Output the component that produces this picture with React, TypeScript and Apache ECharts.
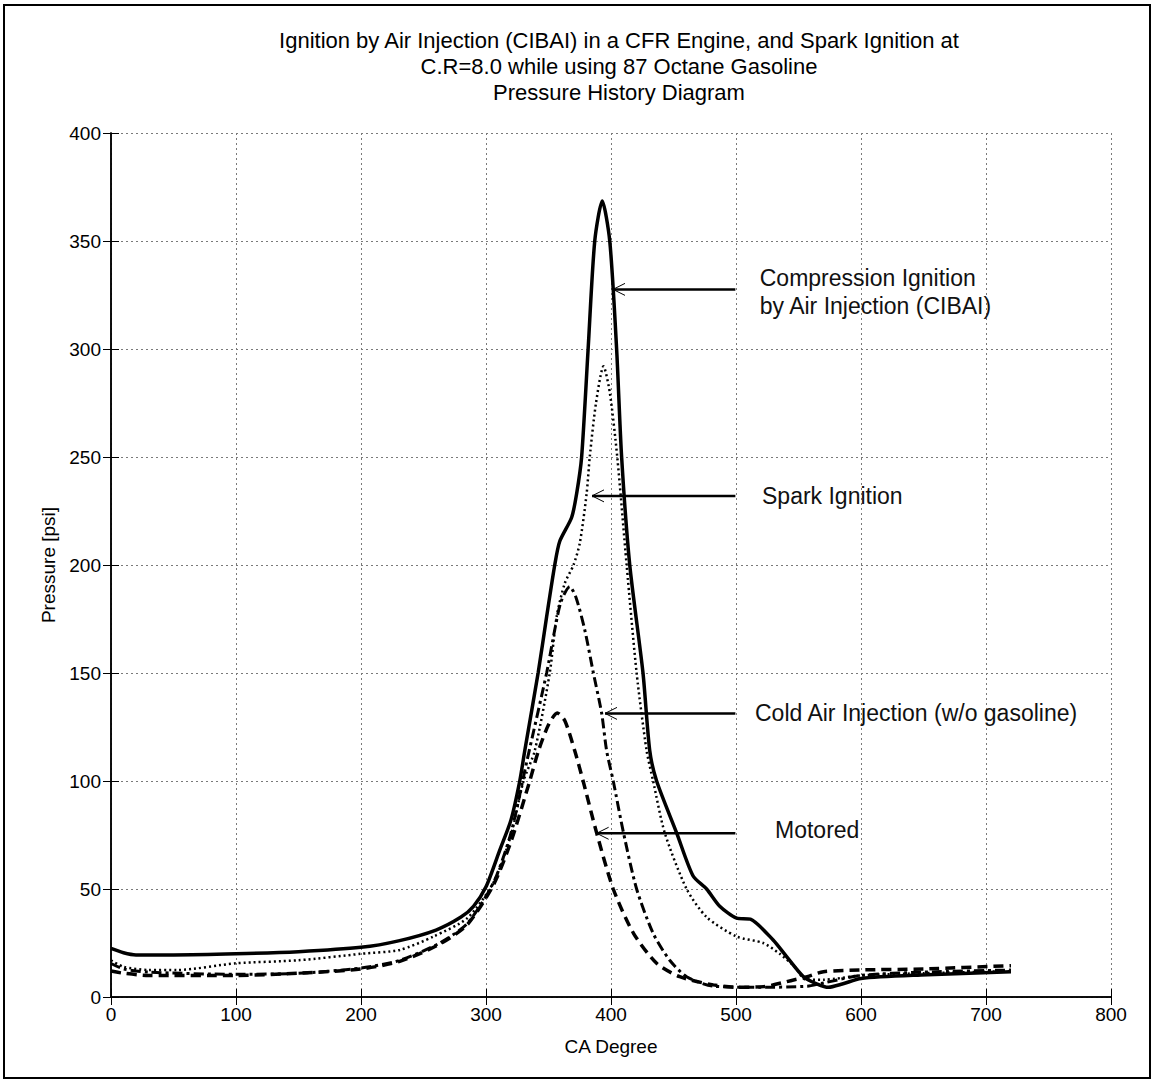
import React, { useEffect, useRef } from "react";
import * as echarts from "echarts";

// ---- Data (CA degree, pressure psi) ----
const caCIBAI = [0, 10, 20, 50, 100, 150, 200, 230, 260, 280, 290, 300, 311, 320, 327, 331, 341.7, 348.5, 355, 359, 368.5, 372.5, 376.5, 381.7, 387, 393, 399, 404.5, 408.5, 415, 425.6, 431, 436.5, 452.5, 465.7, 476.5, 487, 500.5, 511.5, 529.7, 540.5, 554, 565, 574, 585, 600, 648, 720];
const pCIBAI = [22.5, 20.5, 19.5, 19.5, 20, 21, 23, 26, 31, 37, 42, 51, 68, 82, 100, 114, 150, 176, 200, 211, 222, 233, 250, 300, 350, 368.5, 350, 300, 250, 200, 150, 114, 100, 76, 56, 50, 42, 36.5, 36, 26.4, 18.7, 9.4, 6, 4.5, 6, 8.6, 10.2, 11.7];

const caSpark = [0, 10, 30, 53, 100, 150, 200, 231, 258, 285, 306, 320, 330, 339, 351, 356.5, 363, 370, 375, 380.5, 383, 388, 394, 399, 405, 412.5, 420.5, 428.5, 433.7, 443, 460.5, 476.5, 500.5, 521.8, 535, 547, 556, 570, 600, 650, 720];
const pSpark = [17, 14, 12.5, 12.5, 15.6, 17, 20, 21.8, 28, 36.5, 53, 75, 100, 114, 150, 176, 191.5, 200, 210, 233, 250, 275, 292, 280, 250, 200, 150, 114, 100, 76, 50, 37, 28, 25, 20, 14, 8, 8, 10, 11, 12];

const caCold = [0, 10, 30, 100, 150, 200, 231, 263, 285, 306, 320, 333, 348.5, 355, 360, 367, 372, 379, 385.9, 392.5, 396.5, 401.8, 410, 420.5, 433.7, 447, 460.5, 482, 520, 557, 570, 600, 650, 720];
const pCold = [15.5, 13, 11.5, 10.5, 11, 13.4, 17, 25, 34, 53, 76, 110, 150, 170, 183, 190, 185, 170, 150, 131.5, 114, 100, 76, 50, 29.5, 17, 9.4, 5, 4.5, 5, 6.5, 10, 11.5, 12.5];

const caMotored = [0, 10, 30, 100, 150, 200, 231, 263, 285, 306, 320, 335, 342, 350, 357, 363, 371, 377.7, 388.5, 401.8, 418, 436.5, 455, 481.8, 500, 522, 546, 557, 570, 599, 650, 720];
const pMotored = [12, 11, 10, 10, 11, 13, 16.5, 24.5, 33.5, 52, 72, 100, 114, 126, 131.5, 128, 114, 100, 76, 50, 29.5, 15.6, 9.4, 5.6, 4.5, 4.8, 7.9, 9.4, 11.7, 12.5, 13, 14.5];

// ---- Annotations ----
const annLabels = [
  "Compression Ignition\nby Air Injection (CIBAI)",
  "Spark Ignition",
  "Cold Air Injection (w/o gasoline)",
  "Motored",
];
const annHeadCA = [401.6, 384.8, 395.2, 388.5];
const annTailCA = [499.5, 499.5, 499.5, 499.5];
const annPressure = [327.6, 232, 131.3, 75.8];
const annTextCA = [519, 520.8, 515.2, 531.2];
const annTextDy = [3, 0, 0, -3];

const FONT = "'Liberation Sans', Arial, sans-serif";

const zip = (xs: number[], ys: number[]) => xs.map((x, i) => [x, ys[i]]);

export default function App() {
  const ref = useRef<HTMLDivElement>(null);
  useEffect(() => {
    if (!ref.current) return;
    const chart = echarts.init(ref.current, undefined, { renderer: "svg" });
    const axisCommon = {
      min: 0,
      axisLine: { show: true, lineStyle: { color: "#000", width: 1.5 } },
      axisTick: { show: true, inside: true, length: 8, lineStyle: { color: "#000", width: 1 } },
    };
    const annData = annLabels.map((_, i) => [annHeadCA[i], annTailCA[i], annPressure[i], annTextCA[i]]);
    const option: any = {
      animation: false,
      backgroundColor: "#fff",
      title: {
        text: "Ignition by Air Injection (CIBAI) in a CFR Engine, and Spark Ignition at\nC.R=8.0 while using 87 Octane Gasoline\nPressure History Diagram",
        left: 614,
        top: 22,
        textAlign: "center",
        textStyle: { fontFamily: FONT, fontSize: 22, fontWeight: "normal", color: "#000", lineHeight: 26 },
      },
      graphic: [
        {
          type: "rect",
          shape: { x: 4, y: 5, width: 1146, height: 1073 },
          style: { fill: "none", stroke: "#000", lineWidth: 2 },
          silent: true,
        },
      ],
      grid: { left: 111, right: 45, top: 133, bottom: 86, show: false },
      xAxis: [
        {
          ...axisCommon,
          type: "value",
          max: 800,
          interval: 100,
          position: "bottom",
          name: "CA Degree",
          nameLocation: "middle",
          nameGap: 40,
          nameTextStyle: { fontFamily: FONT, fontSize: 19, color: "#000" },
          axisLabel: { fontFamily: FONT, fontSize: 19, color: "#000", margin: 8 },
          splitLine: { show: true, lineStyle: { color: "#7a7a7a", width: 1, type: [2, 3] } },
        },
        {
          ...axisCommon,
          type: "value",
          max: 800,
          interval: 100,
          position: "top",
          axisLabel: { show: false },
          splitLine: { show: false },
        },
      ],
      yAxis: [
        {
          ...axisCommon,
          type: "value",
          max: 400,
          interval: 50,
          position: "left",
          name: "Pressure [psi]",
          nameLocation: "middle",
          nameGap: 52,
          nameTextStyle: { fontFamily: FONT, fontSize: 19, color: "#000" },
          axisLabel: { fontFamily: FONT, fontSize: 19, color: "#000", margin: 10 },
          splitLine: { show: true, lineStyle: { color: "#7a7a7a", width: 1, type: [2, 3] } },
        },
        {
          ...axisCommon,
          type: "value",
          max: 400,
          interval: 50,
          position: "right",
          axisLabel: { show: false },
          splitLine: { show: false },
        },
      ],
      series: [
        {
          name: "Motored",
          type: "line",
          data: zip(caMotored, pMotored),
          showSymbol: false,
          smooth: 0.25,
          lineStyle: { color: "#000", width: 3.5, type: [10, 6] },
        },
        {
          name: "Cold Air Injection",
          type: "line",
          data: zip(caCold, pCold),
          showSymbol: false,
          smooth: 0.25,
          lineStyle: { color: "#000", width: 3, type: [10, 4, 3, 4] },
        },
        {
          name: "Spark Ignition",
          type: "line",
          data: zip(caSpark, pSpark),
          showSymbol: false,
          smooth: 0.25,
          lineStyle: { color: "#000", width: 2.5, type: [2, 3] },
        },
        {
          name: "CIBAI",
          type: "line",
          data: zip(caCIBAI, pCIBAI),
          showSymbol: false,
          smooth: 0.25,
          lineStyle: { color: "#000", width: 3.5, type: "solid" },
        },
        {
          name: "annotations",
          type: "custom",
          coordinateSystem: "cartesian2d",
          clip: false,
          silent: true,
          encode: { x: [0, 1, 3], y: 2 },
          data: annData,
          renderItem: (params: any, api: any) => {
            const i = params.dataIndex;
            const y = api.value(2);
            const h = api.coord([api.value(0), y]);
            const t = api.coord([api.value(1), y]);
            const tx = api.coord([api.value(3), y]);
            return {
              type: "group",
              children: [
                {
                  type: "line",
                  shape: { x1: h[0], y1: h[1], x2: t[0], y2: t[1] },
                  style: { stroke: "#000", lineWidth: 2.5 },
                },
                {
                  type: "polyline",
                  shape: { points: [[h[0] + 12, h[1] - 6], [h[0], h[1]], [h[0] + 12, h[1] + 6]] },
                  style: { stroke: "#000", lineWidth: 1, fill: "none" },
                },
                {
                  type: "text",
                  x: tx[0],
                  y: tx[1] + annTextDy[i],
                  style: {
                    text: annLabels[i],
                    fill: "#111",
                    fontFamily: FONT,
                    fontSize: 23,
                    lineHeight: 28,
                    align: "left",
                    verticalAlign: "middle",
                  },
                },
              ],
            };
          },
        },
      ],
    };
    chart.setOption(option);
    return () => chart.dispose();
  }, []);
  return (
    <div
      ref={ref}
      style={{ position: "absolute", left: 0, top: 0, width: 1156, height: 1083, background: "#fff" }}
    />
  );
}
